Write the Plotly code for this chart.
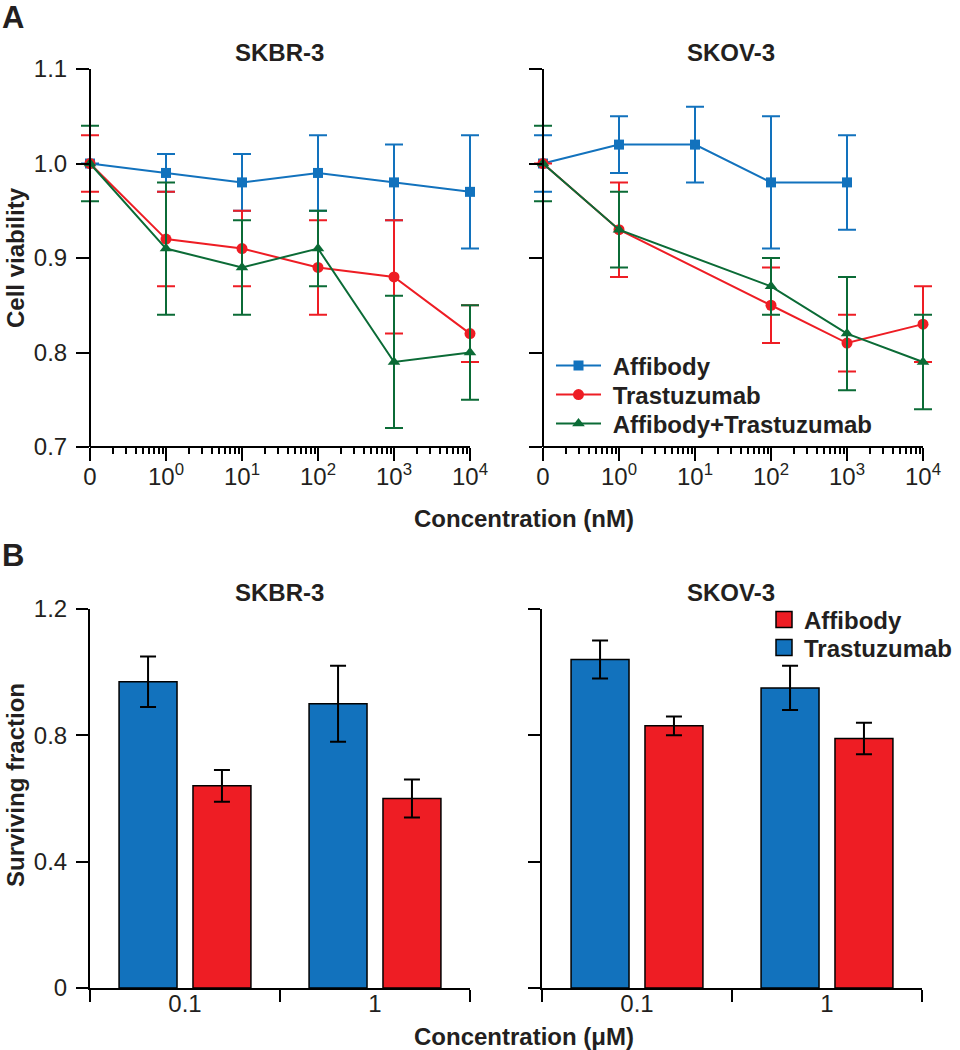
import plotly.graph_objects as go

# ---------------- Data (panel A) ----------------
conc_x = [0.1, 1, 10, 100, 1000, 10000]          # "0" is drawn at the 10^-1 slot
conc_ticktext = ["0", "10<sup>0</sup>", "10<sup>1</sup>", "10<sup>2</sup>",
                 "10<sup>3</sup>", "10<sup>4</sup>"]

aff_skbr = [1.00, 0.99, 0.98, 0.99, 0.98, 0.97]
aff_skbr_err = [0.0, 0.02, 0.03, 0.04, 0.04, 0.06]
tra_skbr = [1.00, 0.92, 0.91, 0.89, 0.88, 0.82]
tra_skbr_err = [0.03, 0.05, 0.04, 0.05, 0.06, 0.03]
com_skbr = [1.00, 0.91, 0.89, 0.91, 0.79, 0.80]
com_skbr_err = [0.04, 0.07, 0.05, 0.04, 0.07, 0.05]

aff_skov = [1.00, 1.02, 1.02, 0.98, 0.98, None]
aff_skov_err = [0.03, 0.03, 0.04, 0.07, 0.05, None]
tra_skov = [1.00, 0.93, None, 0.85, 0.81, 0.83]
tra_skov_err = [0.0, 0.05, None, 0.04, 0.03, 0.04]
com_skov = [1.00, 0.93, None, 0.87, 0.82, 0.79]
com_skov_err = [0.04, 0.04, None, 0.03, 0.06, 0.05]

viab_ticks = [0.7, 0.8, 0.9, 1.0, 1.1]

# ---------------- Data (panel B) ----------------
conc_uM = ["0.1", "1"]
tra_skbr_bar = [0.97, 0.90]
tra_skbr_bar_err = [0.08, 0.12]
aff_skbr_bar = [0.64, 0.60]
aff_skbr_bar_err = [0.05, 0.06]
tra_skov_bar = [1.04, 0.95]
tra_skov_bar_err = [0.06, 0.07]
aff_skov_bar = [0.83, 0.79]
aff_skov_bar_err = [0.03, 0.05]

surv_ticks = [0, 0.4, 0.8, 1.2]
surv_ticktext = ["0", "0.4", "0.8", "1.2"]

# ---------------- Styles ----------------
BLUE = "#1272BD"
RED = "#EE1D24"
GREEN = "#0B6B36"
TXT = "#231F20"
FONT = "Liberation Sans, Arial, Helvetica, sans-serif"
W, H = 960, 1050
BOLD = 24

fig = go.Figure()

series = [
    ("Affibody", BLUE, "square", 10, aff_skbr, aff_skbr_err, aff_skov, aff_skov_err, "legend"),
    ("Trastuzumab", RED, "circle", 11, tra_skbr, tra_skbr_err, tra_skov, tra_skov_err, "legend2"),
    ("Affibody+Trastuzumab", GREEN, "triangle-up", 11, com_skbr, com_skbr_err, com_skov, com_skov_err, "legend3"),
]
for name, col, sym, sz, y1, e1, y2, e2, lg in series:
    for (yv, ev, xa, ya, show) in [(y1, e1, "x", "y", False), (y2, e2, "x2", "y2", True)]:
        fig.add_trace(go.Scatter(
            x=conc_x, y=yv, name="\u00a0" + name, mode="lines+markers",
            connectgaps=True, cliponaxis=False,
            line=dict(color=col, width=2),
            marker=dict(color=col, symbol=sym, size=sz),
            error_y=dict(type="data", array=ev, visible=True, color=col,
                         thickness=2, width=9),
            xaxis=xa, yaxis=ya, showlegend=show, legend=lg,
        ))

# bars
for (tv, te, av, ae, xa, ya) in [
    (tra_skbr_bar, tra_skbr_bar_err, aff_skbr_bar, aff_skbr_bar_err, "x3", "y3"),
    (tra_skov_bar, tra_skov_bar_err, aff_skov_bar, aff_skov_bar_err, "x4", "y4"),
]:
    fig.add_trace(go.Bar(
        x=conc_uM, y=tv, name="Trastuzumab",
        marker=dict(color=BLUE, line=dict(color="black", width=1.5)),
        width=0.305, offset=-0.347,
        error_y=dict(type="data", array=te, color="black", thickness=2, width=8),
        xaxis=xa, yaxis=ya, showlegend=False, cliponaxis=False,
    ))
    fig.add_trace(go.Bar(
        x=conc_uM, y=av, name="Affibody",
        marker=dict(color=RED, line=dict(color="black", width=1.5)),
        width=0.305, offset=0.042,
        error_y=dict(type="data", array=ae, color="black", thickness=2, width=8),
        xaxis=xa, yaxis=ya, showlegend=False, cliponaxis=False,
    ))

# legend-only entries for panel B (larger square symbols)
for name, col, lg in [("Affibody", RED, "legend4"), ("Trastuzumab", BLUE, "legend5")]:
    fig.add_trace(go.Scatter(
        x=[None], y=[None], mode="markers", name=name,
        marker=dict(symbol="square", size=16, color=col, line=dict(color="black", width=1.5)),
        xaxis="x4", yaxis="y4", legend=lg, showlegend=True,
    ))

def px_x(a, b):
    return [a / W, b / W]

def px_y(top, bottom):
    return [1 - bottom / H, 1 - top / H]

tickfont = dict(family=FONT, size=24, color=TXT)
axis_common = dict(linecolor="black", linewidth=2, ticks="outside",
                   tickwidth=2, tickcolor="black", showgrid=False, zeroline=False,
                   tickfont=tickfont)

# log axis: small padding beyond the first/last decade so end error caps are not cut
lo, hi = -1, 4
PAD = 0.15
DEC_PX = 380 / (hi - lo)
pad_px = PAD * DEC_PX

minor_vals = [m * 10 ** k for k in range(lo, hi) for m in range(2, 10)]

logx = dict(type="log", range=[lo - PAD, hi + PAD], tickmode="array", tickvals=conc_x,
            ticktext=conc_ticktext, ticklen=13, showline=False, ticklabelstandoff=-5,
            minor=dict(tickmode="array", tickvals=minor_vals, ticks="outside",
                       ticklen=6, tickwidth=1.5, tickcolor="black", showgrid=False),
            **axis_common)
viaby = dict(range=[0.7, 1.1], tickmode="array", tickvals=viab_ticks,
             tickformat=".1f", ticklen=13, showline=True, ticklabelstandoff=4,
             **axis_common)
catx = dict(type="category", range=[-0.5, 1.5], tickson="boundaries", ticklen=12,
            showline=True, ticklabelstandoff=-7, **axis_common)
survy = dict(range=[0, 1.2], tickmode="array", tickvals=surv_ticks,
             ticktext=surv_ticktext, ticklen=12, showline=True, ticklabelstandoff=4,
             **axis_common)

def leg(x, y, iw):
    return dict(x=x / W, y=1 - y / H, xanchor="left", yanchor="middle",
                bgcolor="rgba(0,0,0,0)", itemwidth=iw, borderwidth=0,
                font=dict(family=FONT, size=BOLD, color=TXT, weight="bold"))

fig.update_layout(
    width=W, height=H, margin=dict(l=0, r=0, t=0, b=0, autoexpand=False),
    paper_bgcolor="white", plot_bgcolor="white",
    font=dict(family=FONT, color=TXT),
    barmode="overlay",
    xaxis=dict(domain=px_x(90 - pad_px, 470 + pad_px), anchor="y", **logx),
    yaxis=dict(domain=px_y(69, 447), anchor="free", position=90 / W, **viaby),
    xaxis2=dict(domain=px_x(543 - pad_px, 923 + pad_px), anchor="y2", **logx),
    yaxis2=dict(domain=px_y(69, 447), anchor="free", position=543 / W,
                showticklabels=False, **viaby),
    xaxis3=dict(domain=px_x(90, 470), anchor="y3", **catx),
    yaxis3=dict(domain=px_y(609, 988), anchor="x3", **survy),
    xaxis4=dict(domain=px_x(542, 922), anchor="y4", **catx),
    yaxis4=dict(domain=px_y(609, 988), anchor="x4", showticklabels=False, **survy),
    legend=leg(551, 366, 45),
    legend2=leg(551, 395, 45),
    legend3=leg(551, 424, 45),
    legend4=leg(764, 620, 30),
    legend5=leg(764, 648, 30),
)

# x axis baselines of panel A, spanning exactly the plotted decades
for xr, yr in [("x", "y domain"), ("x2", "y2 domain")]:
    fig.add_shape(type="line", xref=xr, yref=yr, x0=conc_x[0], x1=conc_x[-1], y0=0, y1=0,
                  line=dict(color="black", width=2), layer="above")

def ann(text, x, y, size, bold=True, angle=0, xanchor="center"):
    fig.add_annotation(text=text, x=x / W, y=1 - y / H, xref="paper", yref="paper",
                       showarrow=False, textangle=angle, xanchor=xanchor, yanchor="middle",
                       font=dict(family=FONT, size=size, color=TXT,
                                 weight="bold" if bold else "normal"))

ann("A", 0, 17, 31, xanchor="left")
ann("B", 0, 555, 31, xanchor="left")
ann("SKBR-3", 279, 52, BOLD)
ann("SKOV-3", 731, 52, BOLD)
ann("SKBR-3", 279, 592, BOLD)
ann("SKOV-3", 731, 592, BOLD)
ann("Cell viability", 15, 258, BOLD, angle=-90)
ann("Surviving fraction", 15, 785, BOLD, angle=-90)
ann("Concentration (nM)", 524, 519, BOLD)
ann("Concentration (μM)", 524, 1036, BOLD)

fig.write_html("out.html",
               config={"displayModeBar": False},
               post_script="document.body.style.margin='0px';"
                           "document.documentElement.style.overflow='hidden';")
